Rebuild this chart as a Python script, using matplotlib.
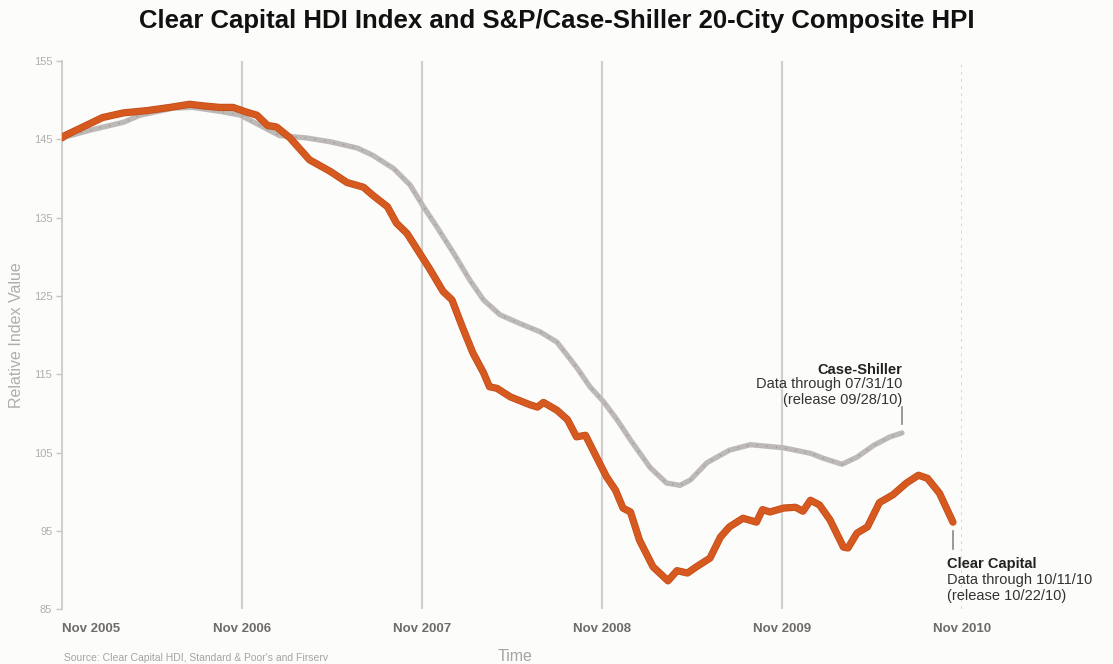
import matplotlib.pyplot as plt
import matplotlib.patheffects as pe

plt.rcParams['font.family'] = ['Liberation Sans', 'DejaVu Sans']

# months since Nov 2005
cc_month = [0.0, 0.2, 1.4, 2.7, 4.1, 5.7, 7.2, 8.5, 9.4, 10.5, 11.4, 12.3, 13.0, 13.7,
            14.3, 15.2, 16.5, 17.9, 19.0, 20.1, 20.7, 21.7, 22.3, 23.0, 23.7, 24.5,
            25.4, 26.0, 26.7, 27.4, 28.1, 28.5, 29.0, 29.9, 31.2, 31.7, 32.1, 33.0,
            33.7, 34.3, 34.9, 35.4, 36.3, 36.9, 37.4, 37.9, 38.5, 39.4, 40.4, 41.0,
            41.7, 42.3, 43.2, 43.9, 44.5, 45.4, 46.3, 46.7, 47.2, 48.1, 48.9, 49.4,
            49.9, 50.5, 51.2, 52.1, 52.4, 53.0, 53.7, 54.5, 55.4, 56.3, 57.1, 57.7,
            58.5, 59.4]
cc_value = [145.2, 145.5, 146.6, 147.8, 148.4, 148.7, 149.1, 149.5, 149.3, 149.1, 149.1,
            148.5, 148.1, 146.8, 146.6, 145.2, 142.4, 140.9, 139.5, 138.9, 137.9, 136.4,
            134.3, 133.0, 130.9, 128.5, 125.6, 124.5, 121.0, 117.7, 115.2, 113.4, 113.2,
            112.1, 111.1, 110.8, 111.4, 110.4, 109.2, 107.0, 107.2, 105.3, 101.9, 100.2,
            97.9, 97.4, 93.8, 90.4, 88.6, 89.9, 89.6, 90.4, 91.5, 94.2, 95.5, 96.6,
            96.1, 97.7, 97.4, 97.9, 98.0, 97.5, 98.9, 98.3, 96.4, 92.9, 92.8, 94.7,
            95.5, 98.6, 99.6, 101.1, 102.1, 101.7, 99.8, 96.1]

cs_month = [0.0, 1.9, 4.1, 5.2, 7.4, 8.7, 10.5, 11.9, 13.2, 14.5, 16.3, 17.9, 19.7,
            20.7, 22.1, 23.2, 24.1, 25.0, 26.1, 27.2, 28.1, 29.2, 30.5, 31.9, 33.0,
            34.3, 35.2, 36.1, 37.0, 37.9, 39.2, 40.3, 41.2, 41.9, 43.0, 44.5, 45.9,
            48.1, 49.9, 50.7, 52.0, 53.0, 54.1, 55.2, 56.0]
cs_value = [145.2, 146.2, 147.2, 148.1, 149.0, 149.1, 148.6, 148.1, 146.8, 145.5, 145.2,
            144.7, 143.9, 143.0, 141.3, 139.2, 136.4, 133.8, 130.5, 127.0, 124.5, 122.6,
            121.5, 120.4, 119.1, 115.9, 113.4, 111.5, 109.2, 106.6, 103.1, 101.1, 100.8,
            101.5, 103.7, 105.3, 106.0, 105.6, 104.9, 104.3, 103.5, 104.4, 105.9, 107.0,
            107.5]

year_ticks = [0, 12, 24, 36, 48, 60]
year_labels = ['Nov 2005', 'Nov 2006', 'Nov 2007', 'Nov 2008', 'Nov 2009', 'Nov 2010']
y_ticks = [85, 95, 105, 115, 125, 135, 145, 155]

bg = '#fcfcfa'
fig = plt.figure(figsize=(11.13, 6.64), dpi=100, facecolor=bg)
ax = fig.add_axes([0.0557, 0.0828, 0.8086, 0.825], facecolor=bg)

for m in year_ticks[1:-1]:
    ax.axvline(m, color='#d2d0ce', lw=1.6, zorder=1)
ax.axvline(60, color='#d2d0ce', lw=1.3, ls=(0, (1.5, 2.5)), zorder=1)

ax.plot(cs_month, cs_value, color='#bdb9b7', lw=3.8, solid_capstyle='round',
        solid_joinstyle='round', zorder=2)
ax.plot(cs_month, cs_value, color='#9d9997', lw=1.0, ls=(0, (1, 6)), zorder=2)
ax.plot(cc_month, cc_value, color='#d65a1f', lw=4.2, solid_capstyle='round',
        solid_joinstyle='round', zorder=3,
        path_effects=[pe.Stroke(linewidth=5.2, foreground='#bf4a18', joinstyle='round',
                                capstyle='round'), pe.Normal()])

ax.set_xlim(0, 60)
ax.set_ylim(85, 155)
ax.set_yticks(y_ticks)
ax.set_xticks(year_ticks)
ax.set_xticklabels(year_labels)
ax.tick_params(axis='y', length=4, width=1, color='#c8c6c4', labelcolor='#b0aeac',
               labelsize=8, pad=3)
ax.tick_params(axis='x', length=0, labelcolor='#6e6c6a', labelsize=9.5, pad=10)
for lab in ax.get_xticklabels():
    lab.set_fontweight('bold')
ax.get_xticklabels()[0].set_horizontalalignment('left')
for s in ['top', 'right', 'bottom']:
    ax.spines[s].set_visible(False)
ax.spines['left'].set_color('#c8c6c4')
ax.spines['left'].set_linewidth(1.2)

ax.set_ylabel('Relative Index Value', color='#b0aeac', fontsize=11.5, labelpad=7)

# end annotations
ax.plot([cs_month[-1], cs_month[-1]], [108.6, 110.8], color='#8a8886', lw=1.2, clip_on=False)
ax.text(cs_month[-1], 114.7, 'Case-Shiller', ha='right', va='bottom', fontsize=10.5,
        fontweight='bold', color='#222222')
ax.text(cs_month[-1], 114.6, 'Data through 07/31/10\n(release 09/28/10)', ha='right',
        va='top', fontsize=10.5, color='#333333', linespacing=1.15)
ax.plot([cc_month[-1], cc_month[-1]], [92.7, 95.0], color='#8a8886', lw=1.2, clip_on=False)
ax.text(59.0, 91.6, 'Clear Capital', ha='left', va='top', fontsize=10.5,
        fontweight='bold', color='#222222', clip_on=False)
ax.text(59.0, 89.6, 'Data through 10/11/10\n(release 10/22/10)', ha='left',
        va='top', fontsize=10.5, color='#333333', linespacing=1.15, clip_on=False)

fig.text(0.5, 0.968, 'Clear Capital HDI Index and S&P/Case-Shiller 20-City Composite HPI',
         ha='center', va='center', fontsize=18.5, fontweight='bold', color='#111111')
fig.text(0.0575, 0.002, "Source: Clear Capital HDI, Standard & Poor's and Firserv",
         ha='left', va='bottom', fontsize=7.5, color='#a6a4a2')
fig.text(0.463, 0.0, 'Time', ha='center', va='bottom', fontsize=11.5, color='#a6a4a2')

fig.savefig('out.png', dpi=100, facecolor=bg)
